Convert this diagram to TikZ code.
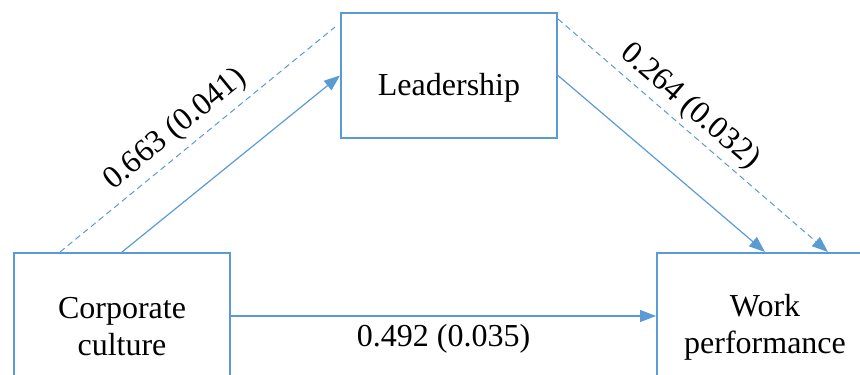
\documentclass[tikz,border=0pt]{standalone}
\usepackage{fontspec}
\setmainfont{Liberation Serif}
\usetikzlibrary{arrows.meta,calc}
\definecolor{officeblue}{RGB}{91,155,213}
\begin{document}
\begin{tikzpicture}[x=0.5pt,y=-0.5pt,font=\fontsize{16}{18.5}\selectfont] % модель медиации
\tikzstyle{mybox} = [draw=officeblue, line width=1pt, minimum width=108pt, align=center, inner sep=0pt] % стиль блока
\tikzstyle{myarrow} = [draw=officeblue, line width=0.6pt, -{Triangle[length=8pt,width=6pt]}] % стрелка
\tikzstyle{mydash} = [draw=officeblue, line width=0.5pt, dash pattern=on 3pt off 2pt] % пунктир
\useasboundingbox (0,0) rectangle (860,374);
\node[mybox, minimum height=62.5pt, label={[yshift=-6pt]center:Leadership}] (lead) at (449,75.5) {};
\node[mybox, minimum height=74pt] (corp) at (122,327) {Corporate\\culture};
\node[mybox, minimum height=74pt] (work) at (765,327) {Work\\performance};
\draw[myarrow] (corp.north) -- (lead.west); % прямые связи
\draw[myarrow] (lead.east) -- (work.north);
\draw[myarrow] ($(corp.east)+(0,-11)$) -- node[below=0.5pt] {0.492 (0.035)} ($(work.west)+(0,-11)$);
\draw[mydash] ($(corp.north)+(-62,0)$) -- node[pos=0.47, sloped, above=0pt] {0.663 (0.041)} ($(lead.north west)+(-5,15)$); % пунктирные линии с коэффициентами
\draw[mydash, -{Triangle[length=8pt,width=6pt]}] ($(lead.north east)+(0,7)$) -- node[pos=0.44, sloped, above=-1pt] {0.264 (0.032)} ($(work.north)+(63,0)$);
\end{tikzpicture}
\end{document}
